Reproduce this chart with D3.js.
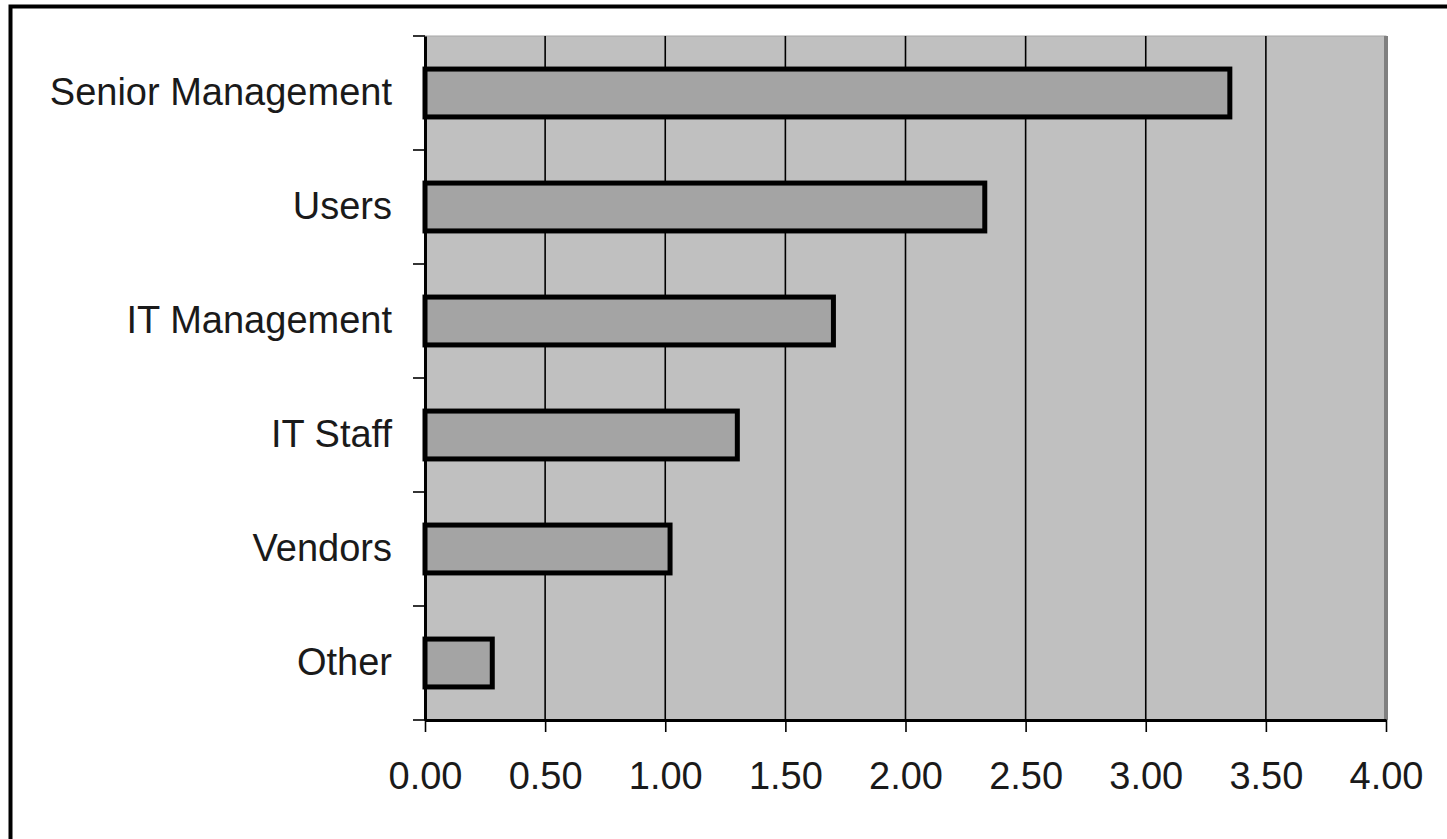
<!DOCTYPE html>
<html>
<head>
<meta charset="utf-8">
<script src="https://cdn.jsdelivr.net/npm/d3@7"></script>
<style>
  body { margin: 0; background: #fff; }
  svg text { font-family: "Liberation Sans", Arial, sans-serif; fill: #1a1a1a; }
</style>
</head>
<body>
<script>
// chart data
const categories = ["Senior Management", "Users", "IT Management", "IT Staff", "Vendors", "Other"];
const values = [3.35, 2.33, 1.70, 1.30, 1.02, 0.28];
const xTicks = [0, 0.5, 1, 1.5, 2, 2.5, 3, 3.5, 4];

const width = 1447, height = 839;
const margin = { top: 36, right: 61, bottom: 119, left: 425 };

const svg = d3.select("body").append("svg")
  .attr("width", width)
  .attr("height", height);

// outer frame (runs off the right / bottom edge like the source)
svg.append("rect")
  .attr("x", 10.5).attr("y", 6.5)
  .attr("width", 1500).attr("height", 900)
  .attr("fill", "#fff")
  .attr("stroke", "#000")
  .attr("stroke-width", 4);

const xScale = d3.scaleLinear()
  .domain([0, 4])
  .range([margin.left, width - margin.right]);

const yScale = d3.scaleBand()
  .domain(categories)
  .range([margin.top, height - margin.bottom])
  .paddingInner(0.58)
  .paddingOuter(0.29);

const plotTop = margin.top, plotBottom = height - margin.bottom;

// plot background
svg.append("rect")
  .attr("x", xScale(0)).attr("y", plotTop)
  .attr("width", xScale(4) - xScale(0))
  .attr("height", plotBottom - plotTop)
  .attr("fill", "#c0c0c0")
  .attr("stroke", "#a8a8a8")
  .attr("stroke-width", 1);

// right edge of plot area is a darker gray
svg.append("line")
  .attr("x1", xScale(4)).attr("x2", xScale(4))
  .attr("y1", plotTop).attr("y2", plotBottom)
  .attr("stroke", "#808080")
  .attr("stroke-width", 4);

// vertical grid lines
svg.append("g")
  .selectAll("line")
  .data(xTicks.filter(d => d > 0 && d < 4))
  .enter().append("line")
  .attr("x1", d => xScale(d)).attr("x2", d => xScale(d))
  .attr("y1", plotTop).attr("y2", plotBottom)
  .attr("stroke", "#000")
  .attr("stroke-width", 1.6);

// bars
svg.append("g")
  .selectAll("rect")
  .data(categories.map((c, i) => ({ c, v: values[i] })))
  .enter().append("rect")
  .attr("x", xScale(0))
  .attr("y", d => yScale(d.c))
  .attr("width", d => xScale(d.v) - xScale(0))
  .attr("height", yScale.bandwidth())
  .attr("fill", "#a4a4a4")
  .attr("stroke", "#000")
  .attr("stroke-width", 5);

// x axis
const xAxis = svg.append("g")
  .attr("transform", `translate(0,${plotBottom})`)
  .call(d3.axisBottom(xScale).tickValues(xTicks).tickFormat(d3.format(".2f"))
    .tickSize(12).tickSizeOuter(0).tickPadding(30));
xAxis.select(".domain").attr("stroke", "#000").attr("stroke-width", 3);
xAxis.selectAll(".tick line").attr("stroke", "#000").attr("stroke-width", 1.6);
xAxis.selectAll("text").style("font-size", "38px").attr("fill", "#1a1a1a");

// y axis: tick marks at the category boundaries
const bounds = d3.range(categories.length + 1).map(i => plotTop + i * (plotBottom - plotTop) / categories.length);
svg.append("g")
  .selectAll("line")
  .data(bounds)
  .enter().append("line")
  .attr("x1", xScale(0) - 12).attr("x2", xScale(0))
  .attr("y1", d => d).attr("y2", d => d)
  .attr("stroke", "#000")
  .attr("stroke-width", 1.6);

const yAxis = svg.append("g")
  .attr("transform", `translate(${xScale(0)},0)`)
  .call(d3.axisLeft(yScale).tickSize(0).tickPadding(33));
yAxis.select(".domain").attr("stroke", "#000").attr("stroke-width", 3);
yAxis.selectAll("text").style("font-size", "38px").attr("fill", "#1a1a1a");
</script>
</body>
</html>
